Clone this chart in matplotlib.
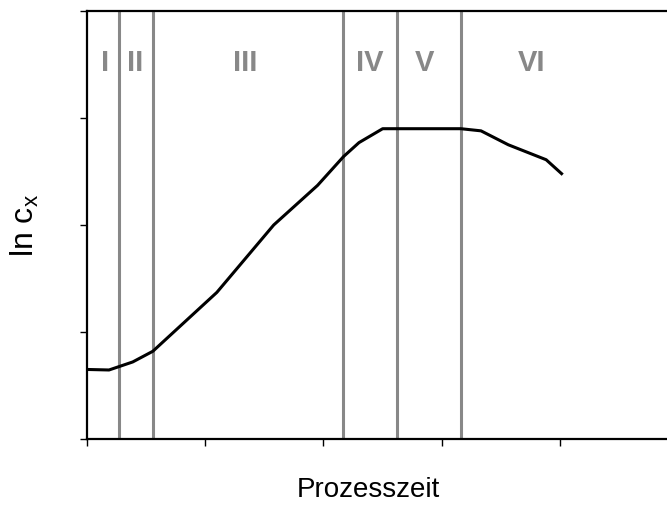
import matplotlib.pyplot as plt

# curve (arbitrary units)
t = [0.0, 0.19, 0.39, 0.56, 1.10, 1.58, 1.95, 2.17, 2.30, 2.50, 3.16, 3.33, 3.56, 3.88, 4.01]
ln_cx = [0.65, 0.645, 0.72, 0.82, 1.37, 2.0, 2.37, 2.64, 2.77, 2.90, 2.90, 2.88, 2.75, 2.61, 2.48]

# phase boundaries and labels
boundaries = [0.275, 0.562, 2.168, 2.624, 3.157]
phase_names = ['I', 'II', 'III', 'IV', 'V', 'VI']
phase_x = [0.156, 0.41, 1.34, 2.39, 2.85, 3.76]

plt.rcParams['font.family'] = ['Liberation Sans', 'DejaVu Sans']

fig = plt.figure(figsize=(6.67, 5.05), dpi=100)
ax = fig.add_axes([0.1297, 0.1307, 0.8703, 0.8475])

for b in boundaries:
    ax.axvline(b, color='#888888', lw=2.2, zorder=1)

ax.plot(t, ln_cx, color='black', lw=2.2, zorder=2)

for name, x in zip(phase_names, phase_x):
    ax.text(x, 3.51, name, color='#888888', fontsize=21, fontweight='bold',
            ha='center', va='center')

ax.set_xlim(0, 4.9)
ax.set_ylim(0, 4)
ax.set_xticks([0, 1, 2, 3, 4])
ax.set_yticks([0, 1, 2, 3, 4])
ax.set_xticklabels([])
ax.set_yticklabels([])
ax.tick_params(direction='out', length=5, width=1, color='black')

for side in ['left', 'bottom', 'top']:
    ax.spines[side].set_linewidth(1.6)
    ax.spines[side].set_color('black')
ax.spines['right'].set_visible(False)

fig.text(0.552, 0.016, 'Prozesszeit', fontsize=20, ha='center', va='baseline')
fig.text(0.0375, 0.554, r'ln c$_\mathregular{x}$', fontsize=23, rotation=90,
         ha='center', va='center')

fig.savefig('out.png', dpi=100)
